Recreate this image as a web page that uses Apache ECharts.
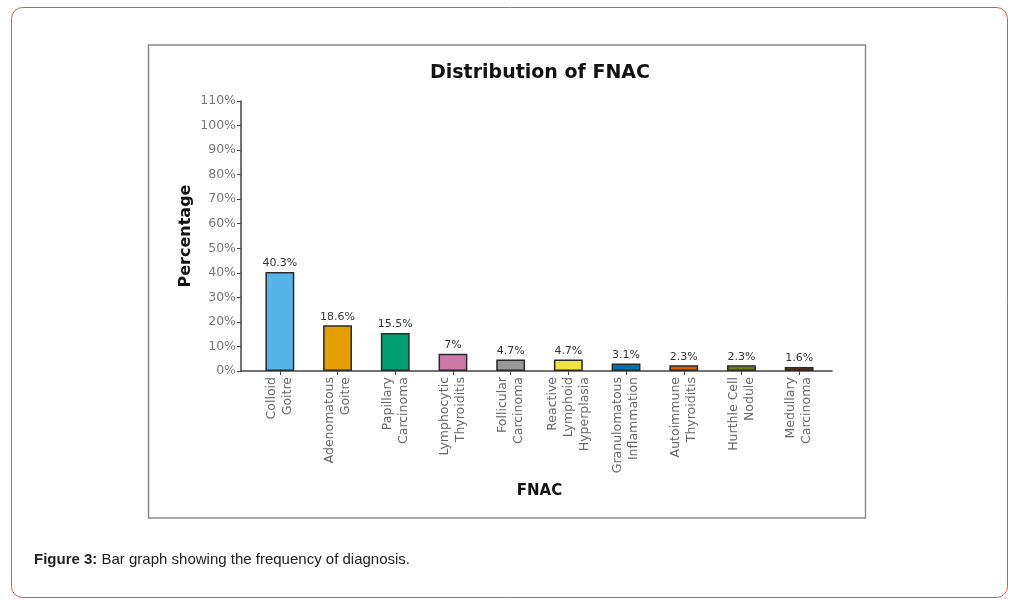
<!DOCTYPE html>
<html>
<head>
<meta charset="utf-8">
<script src="https://cdn.jsdelivr.net/npm/echarts@6/dist/echarts.min.js"></script>
<style>
html,body{margin:0;padding:0;background:#fff;}
#chart{width:1028px;height:612px;}
</style>
</head>
<body>
<div id="chart"></div>
<script>
var categories = ["Colloid\nGoitre","Adenomatous\nGoitre","Papillary\nCarcinoma","Lymphocytic\nThyroiditis","Follicular\nCarcinoma","Reactive\nLymphoid\nHyperplasia","Granulomatous\nInflammation","Autoimmune\nThyroiditis","Hurthle Cell\nNodule","Medullary\nCarcinoma"];
var percentages = [40.3, 18.6, 15.5, 7, 4.7, 4.7, 3.1, 2.3, 2.3, 1.6];
var barColors = ["#56B4E9","#E69F00","#009E73","#CC79A7","#999999","#F0E442","#0072B2","#D55E00","#6E7D10","#7A2A12"];
var yTicks = [0,10,20,30,40,50,60,70,80,90,100,110];

var chart = echarts.init(document.getElementById('chart'));
var axisGrey = '#444';
chart.setOption({
  animation: false,
  title: {
    text: 'Distribution of FNAC',
    left: 535, top: 59, textAlign: 'center',
    textStyle: {fontFamily: 'DejaVu Sans', fontWeight: 'bold', fontSize: 19, color: '#111'}
  },
  grid: [
    {left: 251, right: 1028 - 828, top: 101, bottom: 612 - 371, containLabel: false},
    {left: 241, right: 1028 - 832, top: 101, bottom: 612 - 371, containLabel: false}
  ],
  xAxis: [
    {
      type: 'category', data: categories, gridIndex: 0,
      axisLine: {show: false},
      axisTick: {show: true, alignWithLabel: true, length: 4, lineStyle: {color: axisGrey}},
      axisLabel: {rotate: 90, interval: 0, color: '#666', fontFamily: 'DejaVu Sans', fontSize: 12.5, lineHeight: 16, margin: 6},
      name: 'FNAC', nameLocation: 'middle', nameGap: 113, nameMoveOverlap: false,
      nameTextStyle: {fontFamily: 'DejaVu Sans', fontWeight: 'bold', fontSize: 15, color: '#111'}
    },
    {
      type: 'value', gridIndex: 1, min: 0, max: 1,
      axisLine: {show: true, lineStyle: {color: axisGrey, width: 1.5}},
      axisTick: {show: false}, axisLabel: {show: false}, splitLine: {show: false}
    }
  ],
  yAxis: [
    {
      type: 'value', gridIndex: 0, min: 0, max: 110, interval: 10, offset: 10,
      axisLine: {show: true, lineStyle: {color: axisGrey, width: 1.5}},
      axisTick: {show: true, length: 4, lineStyle: {color: axisGrey}},
      axisLabel: {color: '#777', fontFamily: 'DejaVu Sans', fontSize: 12.5, margin: 5, formatter: function(v){return v + '%';}},
      splitLine: {show: false},
      name: 'Percentage', nameLocation: 'middle', nameGap: 47, nameRotate: 90, nameMoveOverlap: false,
      nameTextStyle: {fontFamily: 'DejaVu Sans', fontWeight: 'bold', fontSize: 16, color: '#111'}
    },
    {
      type: 'value', gridIndex: 1, show: false, min: 0, max: 1
    }
  ],
  series: [{
    type: 'bar', xAxisIndex: 0, yAxisIndex: 0,
    barWidth: '50%',
    data: percentages.map(function(v, i){
      return {value: v, itemStyle: {color: barColors[i]}};
    }),
    itemStyle: {borderColor: '#2a2a2a', borderWidth: 1.5},
    label: {
      show: true, position: 'top', distance: 3,
      color: '#333', fontFamily: 'DejaVu Sans', fontSize: 11,
      formatter: function(p){return p.value + '%';}
    }
  }],
  graphic: [
    {type: 'rect', silent: true, shape: {x: 11.5, y: 7.5, width: 996, height: 590, r: 11},
     style: {fill: 'none', stroke: '#e8553a', lineWidth: 1}},
    {type: 'rect', silent: true, shape: {x: 148.5, y: 45, width: 717, height: 473},
     style: {fill: 'none', stroke: '#8a8a8a', lineWidth: 1.5}},
    {type: 'text', left: 34, top: 552,
     style: {
       text: '{b|Figure 3:} Bar graph showing the frequency of diagnosis.',
       rich: {b: {fontWeight: 'bold', fontFamily: 'Liberation Sans', fontSize: 15, fill: '#222'}},
       fontFamily: 'Liberation Sans', fontSize: 15, fill: '#222'
     }}
  ]
});
</script>
</body>
</html>
